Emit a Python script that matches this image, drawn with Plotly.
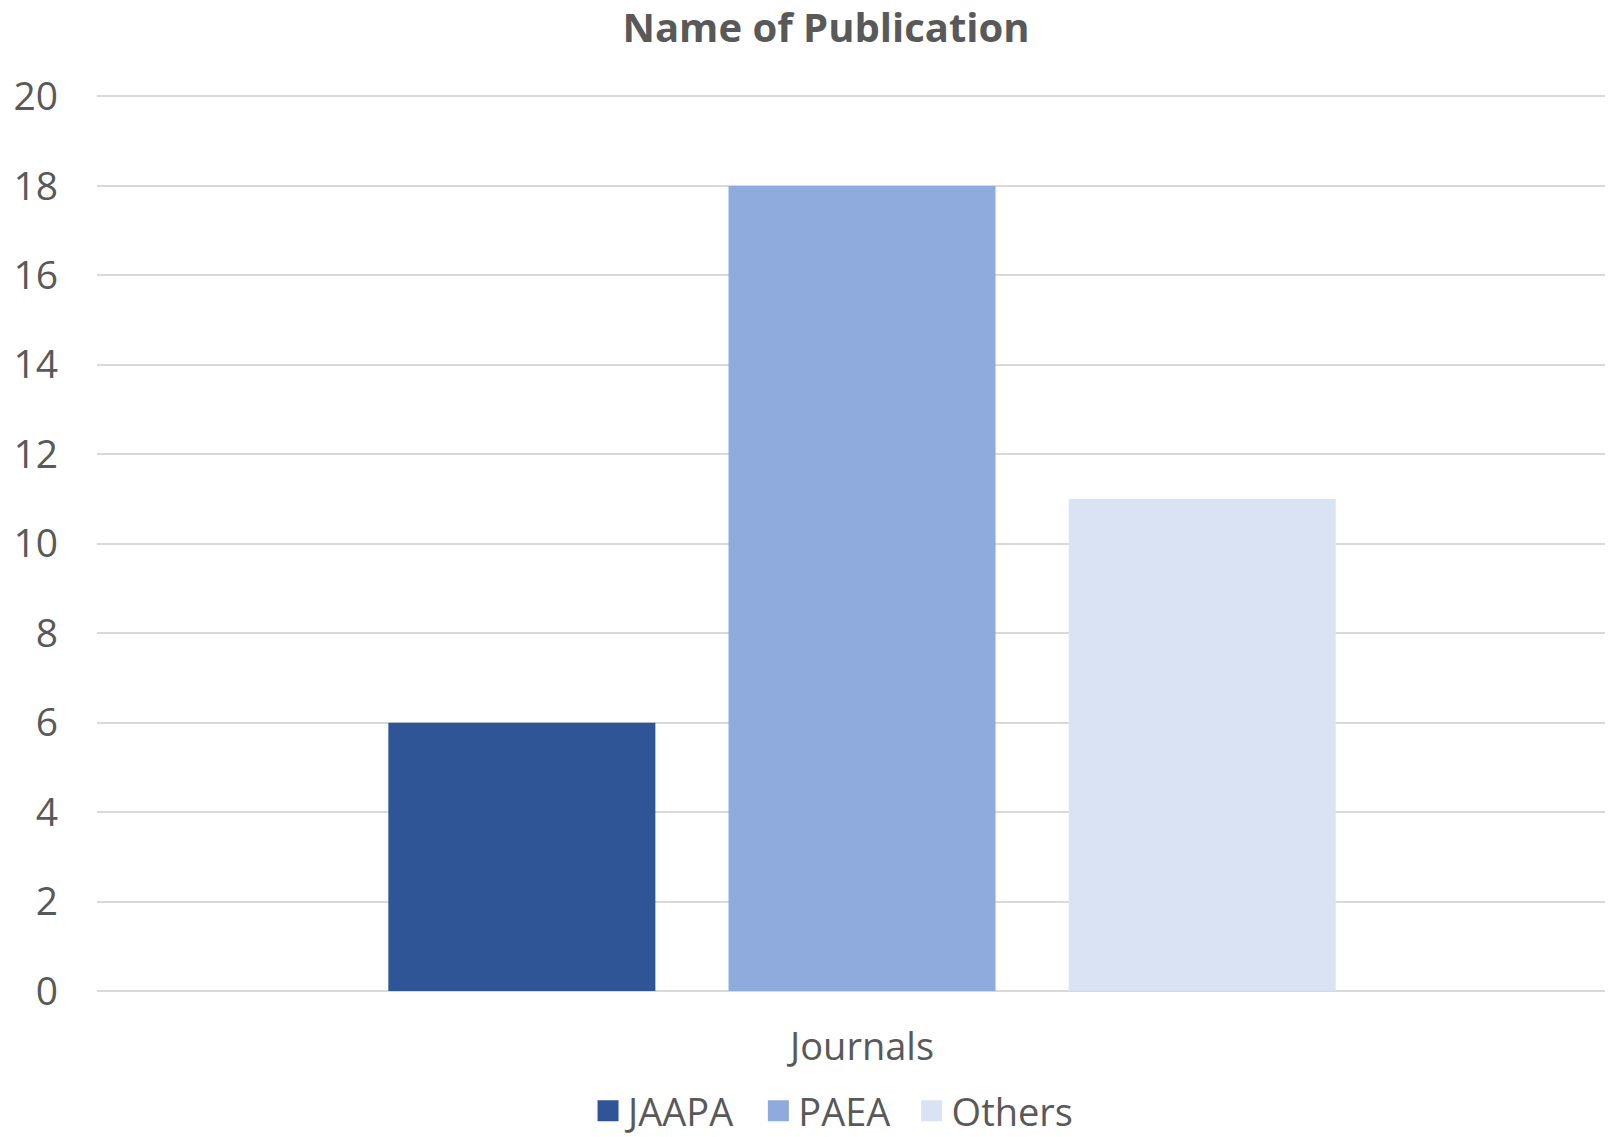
import plotly.graph_objects as go

categories = ["Journals"]
series_names = ["JAAPA", "PAEA", "Others"]
series_values = [[6], [18], [11]]
colors = ["#2F5597", "#8FAADC", "#DAE3F3"]
y_ticks = [0, 2, 4, 6, 8, 10, 12, 14, 16, 18, 20]

FONT = "Open Sans"
TXT = "#595959"

# the page body has an 8px margin, so the figure is sized to fit the window
W, H = 1605, 1129

fig = go.Figure()
for name, vals, c in zip(series_names, series_values, colors):
    fig.add_trace(go.Bar(x=categories, y=vals, name=name, showlegend=False,
                         legendgroup=name, marker=dict(color=c, line=dict(width=0))))
# legend entries with larger square symbols (extra spacing after the first two labels)
for i, (name, c) in enumerate(zip(series_names, colors)):
    label = name + ("\u00a0\u2009" if i < len(series_names) - 1 else "")
    fig.add_trace(go.Scatter(x=[None], y=[None], mode="markers", name=label, legendgroup=name,
                             marker=dict(symbol="square", size=16, color=c, line=dict(color=c, width=5))))

fig.update_layout(
    width=W, height=H,
    margin=dict(l=89, r=0, t=84, b=146, pad=0, autoexpand=False),
    paper_bgcolor="white", plot_bgcolor="white",
    barmode="group", bargap=0.333, bargroupgap=0.215,
    font=dict(family=FONT, color=TXT, size=38),
    title=dict(text="<b>Name of Publication</b>", x=818 / W, xanchor="center",
               y=1 - 20 / H, yanchor="middle",
               font=dict(family=FONT, size=40, color=TXT)),
    legend=dict(orientation="h", x=0.4855, xanchor="center", y=-0.1335, yanchor="middle",
                font=dict(size=38, color=TXT), itemwidth=30, itemsizing="trace",
                traceorder="normal"),
    showlegend=True,
)
fig.update_xaxes(range=[-0.5, 0.4908], showgrid=False, showline=False, ticks="", automargin=False,
                 ticklabelstandoff=30, tickfont=dict(size=38, color=TXT))
fig.update_yaxes(range=[0, 20.1], tickvals=y_ticks, showgrid=True, gridcolor="#D9D9D9", gridwidth=1.5,
                 zeroline=True, zerolinecolor="#D9D9D9", zerolinewidth=1.5, showline=False,
                 automargin=False, ticks="", ticklabelstandoff=38, tickfont=dict(size=39, color=TXT))

fig.write_html("out.html", post_script="document.body.style.overflow='hidden';")
